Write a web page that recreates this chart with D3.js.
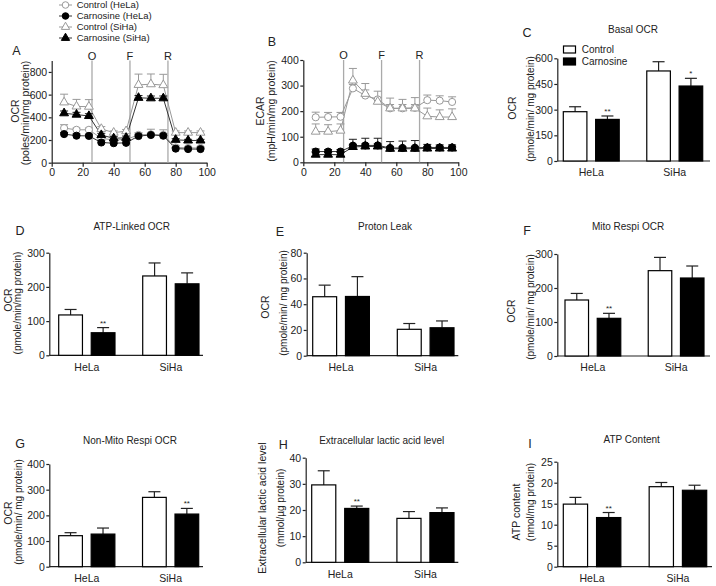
<!DOCTYPE html>
<html>
<head>
<meta charset="utf-8">
<script src="https://cdn.jsdelivr.net/npm/d3@7"></script>
<style>
body{margin:0;background:#fff;}
text{font-family:"Liberation Sans",Arial,Helvetica,sans-serif;fill:#222;}
</style>
</head>
<body>
<script>
// ---------- DATA ----------
const times = [8,16,24,32,40,48,56,64,72,80,88,96];
const injectionTimes = [26, 50.5, 75];
const injectionLabels = ["O","F","R"];
const seriesNames = ["Control (HeLa)","Carnosine (HeLa)","Control (SiHa)","Carnosine (SiHa)"];

// Panel A: OCR (pmoles/min/mg protein)
const ocrCtrlHeLa    = [305,290,290,215,200,205,245,250,245,135,130,130];
const ocrCtrlHeLaErr = [30,15,15,15,15,15,20,45,45,15,10,10];
const ocrCarnHeLa    = [252,238,236,178,172,175,235,244,238,124,120,120];
const ocrCarnHeLaErr = [15,15,15,20,20,20,15,15,15,10,10,10];
const ocrCtrlSiHa    = [532,496,494,298,265,278,686,692,684,265,265,265];
const ocrCtrlSiHaErr = [72,62,62,20,15,15,95,90,95,15,15,15];
const ocrCarnSiHa    = [436,424,412,244,215,220,572,568,568,202,196,196];
const ocrCarnSiHaErr = [20,20,20,15,15,15,20,20,20,10,10,10];

// Panel B: ECAR (mpH/min/mg protein)
const ecarCtrlHeLa    = [176,177,178,289,261,246,211,211,213,243,241,236];
const ecarCtrlHeLaErr = [20,18,17,15,47,32,40,35,40,20,19,20];
const ecarCarnHeLa    = [42,42,42,65,66,66,56,56,57,58,58,58];
const ecarCarnHeLaErr = [10,8,8,25,28,28,25,27,28,12,10,10];
const ecarCtrlSiHa    = [120,120,124,320,268,237,211,211,211,180,177,177];
const ecarCtrlSiHaErr = [30,27,26,47,15,15,15,15,15,32,28,32];
const ecarCarnSiHa    = [30,30,30,60,62,62,53,53,53,54,54,54];
const ecarCarnSiHaErr = [8,8,8,10,10,10,8,8,8,8,8,8];

// Bar panels
const groups = ["HeLa","SiHa"];
const treatments = ["Control","Carnosine"];

const basalCtrl = [288,526],  basalCtrlErr = [29,54],  basalCarn = [243,438],  basalCarnErr = [20,45],  basalSig = ["**","*"];
const atpLinkedCtrl = [118,232], atpLinkedCtrlErr = [16,38], atpLinkedCarn = [66,209], atpLinkedCarnErr = [15,32], atpLinkedSig = ["**",""];
const protonCtrl = [45.8,20.5], protonCtrlErr = [9,4.5], protonCarn = [46,21.7], protonCarnErr = [15.4,5.3], protonSig = ["",""];
const mitoCtrl = [164.7,251], mitoCtrlErr = [19.3,39], mitoCarn = [110.8,229.4], mitoCarnErr = [14.7,35.3], mitoSig = ["**",""];
const nonMitoCtrl = [120.8,270], nonMitoCtrlErr = [11.7,22], nonMitoCarn = [127,205], nonMitoCarnErr = [23.6,22], nonMitoSig = ["","**"];
const lacticCtrl = [29.6,16.8], lacticCtrlErr = [5.4,2.6], lacticCarn = [20.6,19], lacticCarnErr = [0.9,1.8], lacticSig = ["**",""];
const atpCtrl = [14.9,19.05], atpCtrlErr = [1.6,1.0], atpCarn = [11.7,18.2], atpCarnErr = [1.2,1.2], atpSig = ["**",""];

// ---------- DRAWING ----------
const svg = d3.select("body").append("svg").attr("width",716).attr("height",586);
const ink = "#222", grey = "#999";

function vlabel(x, y, txt, size){
  svg.append("text").attr("transform",`translate(${x},${y}) rotate(-90)`)
    .attr("text-anchor","middle").attr("dy","0.35em").style("font-size",size+"px").text(txt);
}
function label(x, y, txt, size, anchor){
  svg.append("text").attr("x",x).attr("y",y).attr("text-anchor",anchor||"middle")
    .attr("dy","0.35em").style("font-size",size+"px").text(txt);
}
function styleAxis(g){
  g.selectAll("path,line").attr("stroke",ink).attr("stroke-width",1.2);
  g.selectAll("text").style("font-size","10.5px").attr("fill",ink)
    .style("font-family",'"Liberation Sans",Arial,sans-serif');
}

function barPanel(c, ctrl, ctrlErr, carn, carnErr, sig){
  const y = d3.scaleLinear().domain([0,c.max]).range([c.y0, c.yTop]);
  const xg = d3.scaleBand().domain(groups).range([c.b0,c.b1]).paddingInner(0.33);
  const xs = d3.scaleBand().domain(treatments).range([0,xg.bandwidth()]).paddingInner(0.27);
  const gy = svg.append("g").attr("transform",`translate(${c.ax},0)`)
    .call(d3.axisLeft(y).tickValues(d3.range(0,c.max+c.step/2,c.step)).tickSize(3).tickSizeOuter(0).tickPadding(1.5));
  styleAxis(gy);
  const gx = svg.append("g").attr("transform",`translate(0,${c.y0})`)
    .call(d3.axisBottom(xg).tickSize(0).tickPadding(8));
  gx.select(".domain").remove();
  styleAxis(gx);
  svg.append("line").attr("x1",c.ax).attr("x2",c.xEnd).attr("y1",c.y0).attr("y2",c.y0)
    .attr("stroke",ink).attr("stroke-width",1.2);
  const vals = [ctrl, carn], errs = [ctrlErr, carnErr];
  groups.forEach((g,gi)=>{
    treatments.forEach((t,ti)=>{
      const v = vals[ti][gi], e = errs[ti][gi];
      const x = xg(g)+xs(t), w = xs.bandwidth(), cx = x+w/2;
      svg.append("line").attr("x1",cx).attr("x2",cx).attr("y1",y(v)).attr("y2",y(v+e))
        .attr("stroke",ink).attr("stroke-width",1.2);
      svg.append("line").attr("x1",cx-6).attr("x2",cx+6).attr("y1",y(v+e)).attr("y2",y(v+e))
        .attr("stroke",ink).attr("stroke-width",1.2);
      svg.append("rect").attr("x",x).attr("y",y(v)).attr("width",w).attr("height",y(0)-y(v))
        .attr("fill",ti===0?"#fff":"#000").attr("stroke","#000").attr("stroke-width",1.2);
      if(ti===1 && sig[gi]){
        svg.append("text").attr("x",cx).attr("y",y(v+e)-2).attr("text-anchor","middle")
          .style("font-size","8px").attr("fill","#444").text(sig[gi]);
      }
    });
  });
  label(c.tx, c.ty, c.title, 10);
  label(c.lx, c.ly, c.letter, 12.5);
  vlabel(c.l1x, c.l1y, c.l1, 10.5);
  vlabel(c.l2x, c.l2y, c.l2, 10);
}

function linePanel(c, data){
  const x = d3.scaleLinear().domain([0,100]).range([c.ax, c.ax+155]);
  const y = d3.scaleLinear().domain([0,c.max]).range([c.y0, c.yTop]);
  const gy = svg.append("g").attr("transform",`translate(${c.ax},0)`)
    .call(d3.axisLeft(y).tickValues(d3.range(0,c.tickMax+1,c.step)).tickSize(3).tickSizeOuter(0).tickPadding(1.5));
  styleAxis(gy);
  const gx = svg.append("g").attr("transform",`translate(0,${c.y0})`)
    .call(d3.axisBottom(x).tickValues(d3.range(0,101,20)).tickSize(4).tickSizeOuter(0).tickPadding(2));
  styleAxis(gx);
  injectionTimes.forEach((t,i)=>{
    svg.append("line").attr("x1",x(t)).attr("x2",x(t)).attr("y1",c.yTop).attr("y2",c.y0)
      .attr("stroke","#aaa").attr("stroke-width",1.3);
    svg.append("text").attr("x",x(t)).attr("y",c.yTop-1).attr("text-anchor","middle")
      .style("font-size","11px").text(injectionLabels[i]);
  });
  const line = d3.line().x((d,i)=>x(times[i])).y(d=>y(d));
  data.forEach(s=>{
    svg.append("path").attr("d",line(s.v)).attr("fill","none")
      .attr("stroke",s.filled?"#333":grey).attr("stroke-width",1);
  });
  data.forEach(s=>{
    const col = s.filled?"#222":grey;
    s.v.forEach((v,i)=>{
      const px = x(times[i]), top = y(v+s.e[i]);
      svg.append("line").attr("x1",px).attr("x2",px).attr("y1",y(v)).attr("y2",top).attr("stroke",col).attr("stroke-width",1);
      svg.append("line").attr("x1",px-4).attr("x2",px+4).attr("y1",top).attr("y2",top).attr("stroke",col).attr("stroke-width",1);
    });
  });
  data.forEach(s=>{
    const sym = d3.symbol().type(s.tri?d3.symbolTriangle:d3.symbolCircle).size(s.tri?34:40);
    s.v.forEach((v,i)=>{
      svg.append("path").attr("d",sym()).attr("transform",`translate(${x(times[i])},${y(v)})`)
        .attr("fill",s.filled?"#000":"#fff").attr("stroke",s.filled?"#000":grey).attr("stroke-width",1);
    });
  });
  label(c.lx, c.ly, c.letter, 12.5);
  vlabel(c.l1x, c.l1y, c.l1, 10.5);
  vlabel(c.l2x, c.l2y, c.l2, 10.5);
}

// Panel A
linePanel({ax:51.7, y0:162.7, yTop:60.6, max:900, tickMax:800, step:200, letter:"A", lx:16.5, ly:51,
  l1:"OCR", l1x:15, l1y:111, l2:"(poles/min/mg protein)", l2x:25.6, l2y:113},
  [{v:ocrCtrlHeLa,e:ocrCtrlHeLaErr,filled:false,tri:false},
   {v:ocrCtrlSiHa,e:ocrCtrlSiHaErr,filled:false,tri:true},
   {v:ocrCarnSiHa,e:ocrCarnSiHaErr,filled:true,tri:true},
   {v:ocrCarnHeLa,e:ocrCarnHeLaErr,filled:true,tri:false}]);

// Panel B
linePanel({ax:303.3, y0:162.3, yTop:60, max:400, tickMax:400, step:100, letter:"B", lx:272, ly:42,
  l1:"ECAR", l1x:260, l1y:111, l2:"(mpH/min/mg protein)", l2x:271.7, l2y:111},
  [{v:ecarCtrlHeLa,e:ecarCtrlHeLaErr,filled:false,tri:false},
   {v:ecarCtrlSiHa,e:ecarCtrlSiHaErr,filled:false,tri:true},
   {v:ecarCarnSiHa,e:ecarCarnSiHaErr,filled:true,tri:true},
   {v:ecarCarnHeLa,e:ecarCarnHeLaErr,filled:true,tri:false}]);

// Legend for A/B
const legY = [5,16,27,38];
seriesNames.forEach((n,i)=>{
  const filled = i%2===1, tri = i>=2, yy = legY[i];
  svg.append("line").attr("x1",59).attr("x2",72).attr("y1",yy).attr("y2",yy)
    .attr("stroke",filled?"#333":grey).attr("stroke-width",1);
  const sym = d3.symbol().type(tri?d3.symbolTriangle:d3.symbolCircle).size(tri?30:34);
  svg.append("path").attr("d",sym()).attr("transform",`translate(65.5,${yy})`)
    .attr("fill",filled?"#000":"#fff").attr("stroke",filled?"#000":grey);
  svg.append("text").attr("x",76.7).attr("y",yy).attr("dy","0.35em")
    .style("font-size","9.5px").attr("fill","#555").text(n);
});

// Panel C
barPanel({ax:557.3, xEnd:710, b0:563.3, b1:702.7, y0:161, yTop:58.3, max:600, step:150,
  title:"Basal OCR", tx:633, ty:29, letter:"C", lx:527, ly:33,
  l1:"OCR", l1x:512.7, l1y:108, l2:"(pmole/min/ mg protein)", l2x:530, l2y:109},
  basalCtrl, basalCtrlErr, basalCarn, basalCarnErr, basalSig);
// Legend C
treatments.forEach((t,i)=>{
  const yy = [49.5,61.5][i];
  svg.append("rect").attr("x",563.5).attr("y",yy-3.5).attr("width",12).attr("height",7)
    .attr("fill",i===0?"#fff":"#000").attr("stroke","#000").attr("stroke-width",1.2);
  svg.append("text").attr("x",581.7).attr("y",yy).attr("dy","0.35em").style("font-size","10px").text(t);
});

// Panel D
barPanel({ax:49.3, xEnd:203, b0:58.7, b1:199, y0:355.3, yTop:252.7, max:300, step:100,
  title:"ATP-Linked OCR", tx:131.7, ty:226, letter:"D", lx:20, ly:231,
  l1:"OCR", l1x:8.3, l1y:300, l2:"(pmole/min/mg protein)", l2x:17, l2y:303},
  atpLinkedCtrl, atpLinkedCtrlErr, atpLinkedCarn, atpLinkedCarnErr, atpLinkedSig);

// Panel E
barPanel({ax:306.7, xEnd:458.3, b0:312.7, b1:454, y0:355.7, yTop:252.7, max:80, step:20,
  title:"Proton Leak", tx:385, ty:226, letter:"E", lx:280, ly:231.7,
  l1:"OCR", l1x:265, l1y:307, l2:"(pmole/min/ mg protein)", l2x:283.7, l2y:303},
  protonCtrl, protonCtrlErr, protonCarn, protonCarnErr, protonSig);

// Panel F
barPanel({ax:557.3, xEnd:710, b0:565, b1:704, y0:356, yTop:254, max:300, step:100,
  title:"Mito Respi OCR", tx:628, ty:226, letter:"F", lx:527, ly:231,
  l1:"OCR", l1x:511.7, l1y:311, l2:"(pmole/min/ mg protein)", l2x:530, l2y:307},
  mitoCtrl, mitoCtrlErr, mitoCarn, mitoCarnErr, mitoSig);

// Panel G
barPanel({ax:49.3, xEnd:203, b0:58.7, b1:198.7, y0:566.7, yTop:464, max:400, step:100,
  title:"Non-Mito Respi OCR", tx:130, ty:440, letter:"G", lx:20, ly:443.3,
  l1:"OCR", l1x:8, l1y:513, l2:"(pmole/min/ mg protein)", l2x:18, l2y:512},
  nonMitoCtrl, nonMitoCtrlErr, nonMitoCarn, nonMitoCarnErr, nonMitoSig);

// Panel H
barPanel({ax:305.7, xEnd:458.3, b0:311.7, b1:454, y0:562.3, yTop:457.7, max:40, step:10,
  title:"Extracellular lactic acid level", tx:381.7, ty:440, letter:"H", lx:283.3, ly:445,
  l1:"Extracellular lactic acid level", l1x:262.7, l1y:508, l2:"(mmol/µg protein)", l2x:280, l2y:508},
  lacticCtrl, lacticCtrlErr, lacticCarn, lacticCarnErr, lacticSig);

// Panel I
barPanel({ax:557.3, xEnd:712, b0:563.3, b1:706.7, y0:566.7, yTop:461.7, max:25, step:5,
  title:"ATP Content", tx:631.7, ty:439.3, letter:"I", lx:530, ly:443.3,
  l1:"ATP content", l1x:516.7, l1y:512, l2:"(nmol/mg protein)", l2x:530, l2y:502},
  atpCtrl, atpCtrlErr, atpCarn, atpCarnErr, atpSig);
</script>
</body>
</html>
